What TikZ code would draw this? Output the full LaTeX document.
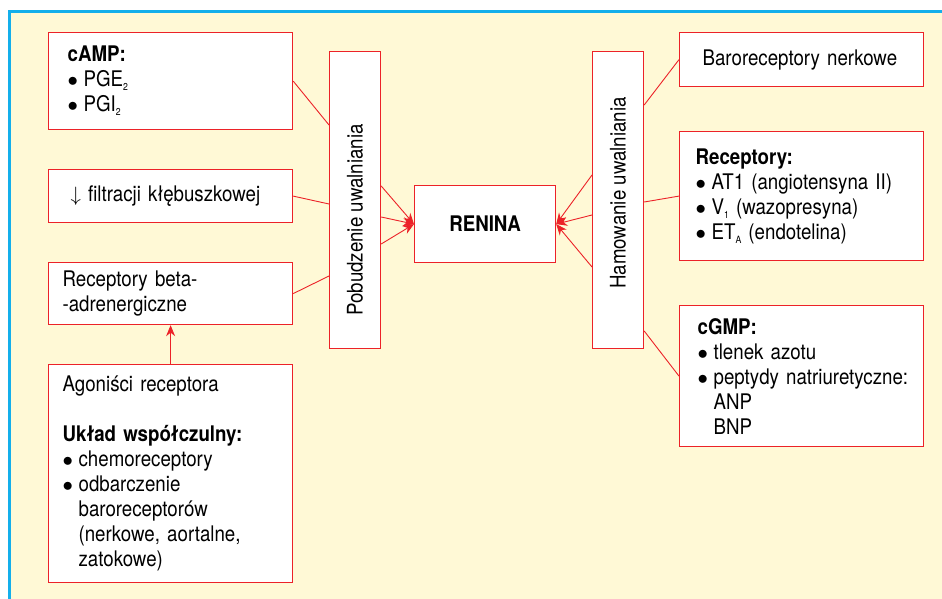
\documentclass[tikz,border=0pt]{standalone}
\usepackage{fontspec}
\setmainfont{TeX Gyre Heros}[FakeStretch=0.87]
\usepackage{xcolor}
\usetikzlibrary{arrows.meta}

\definecolor{frameblue}{RGB}{20,175,235}
\definecolor{cream}{RGB}{255,249,214}
\definecolor{boxred}{RGB}{236,34,40}

\newcommand{\lowidx}[1]{\raisebox{-0.35ex}{\fontsize{10}{10}\selectfont #1}}
\newcommand{\itm}{\makebox[16pt][l]{$\bullet$}}
\newcommand{\cont}{\hspace*{16pt}}

\begin{document}
\begin{tikzpicture}[x=1pt, y=-1pt,
        box/.style={draw=boxred, line width=1.2pt, fill=white, anchor=north west, inner ysep=2pt, align=left, font=\fontsize{21.5}{25}\selectfont},
        col/.style={draw=boxred, line width=1.2pt, fill=white, anchor=north west, minimum width=51pt, minimum height=297pt, inner sep=0pt},
        vlabel/.style={rotate=90, inner sep=0pt, font=\fontsize{21.5}{25}\selectfont},
        link/.style={boxred, line width=0.9pt},
        arr/.style={link, -{Stealth[length=11pt, width=9pt]}},
    ]
        \useasboundingbox (0,0) rectangle (942,599);
        \fill[white] (0,0) rectangle (942,599);
        \fill[cream] (11,13) rectangle (942,599);
        \draw[frameblue, line width=2.5pt] (9.5,599) -- (9.5,11.3) -- (942,11.3);

        % lewa strona
        \node[box, minimum height=97pt, inner xsep=19pt, text width=206pt] (camp) at (48,32)
            {\textbf{cAMP:}\\ \itm PGE\lowidx{2}\\ \itm PGI\lowidx{2}};
        \node[box, minimum height=53pt, inner xsep=22pt, text width=200pt] (filt) at (48,169)
            {$\downarrow$ filtracji kłębuszkowej};
        \node[box, minimum height=62pt, inner xsep=14pt, text width=216pt] (beta) at (48,262)
            {Receptory beta-\\-adrenergiczne};
        \node[box, minimum height=218pt, inner xsep=14pt, text width=216pt] (agon) at (48,364)
            {Agoniści receptora\\[25pt] \textbf{Układ współczulny:}\\ \itm chemoreceptory\\ \itm odbarczenie\\
             \cont baroreceptorów\\ \cont(nerkowe, aortalne,\\ \cont zatokowe)};

        % kolumny i renina
        \node[col] (pob) at (329,51) {};
        \node[vlabel] (pobtxt) at (355,220) {Pobudzenie uwalniania};
        \node[col] (ham) at (592,51) {};
        \node[vlabel] (hamtxt) at (618,193) {Hamowanie uwalniania};
        \node[draw=boxred, line width=1.2pt, fill=white, anchor=north west, minimum width=141pt, minimum height=77pt,
            font=\fontsize{21.5}{25}\selectfont\bfseries] (renina) at (414,185) {RENINA};

        % prawa strona
        \node[box, minimum height=54pt, inner xsep=23pt, text width=198pt] (baro) at (679,32)
            {Baroreceptory nerkowe};
        \node[box, minimum height=129pt, inner xsep=16pt, text width=212pt] (rec) at (679,131)
            {\textbf{Receptory:}\\ \itm AT1 (angiotensyna II)\\ \itm V\lowidx{1} (wazopresyna)\\ \itm ET\lowidx{A} (endotelina)};
        \node[box, minimum height=141pt, inner xsep=18pt, text width=208pt] (cgmp) at (679,305)
            {\textbf{cGMP:}\\ \itm tlenek azotu\\ \itm \mbox{peptydy natriuretyczne:}\\ \cont ANP\\ \cont BNP};

        \draw[link] (camp.east) -- ([yshift=-74pt]pob.north west);
        \draw[link] (filt.east) -- ([yshift=-153pt]pob.north west);
        \draw[link] (beta.east) -- ([yshift=-225pt]pob.north west);
        \draw[arr] (agon.north) -- (beta.south);

        \draw[arr] ([yshift=-135pt]pob.north east) -- (renina.west);
        \draw[arr] ([yshift=-166pt]pob.north east) -- (renina.west);
        \draw[arr] ([yshift=-193pt]pob.north east) -- (renina.west);

        \draw[arr] ([yshift=-124pt]ham.north west) -- (renina.east);
        \draw[arr] ([yshift=-164pt]ham.north west) -- (renina.east);
        \draw[arr] ([yshift=-216pt]ham.north west) -- (renina.east);

        \draw[link] ([yshift=-54pt]ham.north east) -- (baro.west);
        \draw[link] ([yshift=-151pt]ham.north east) -- (rec.west);
        \draw[link] ([yshift=-280pt]ham.north east) -- (cgmp.west);
    \end{tikzpicture}
\end{document}
